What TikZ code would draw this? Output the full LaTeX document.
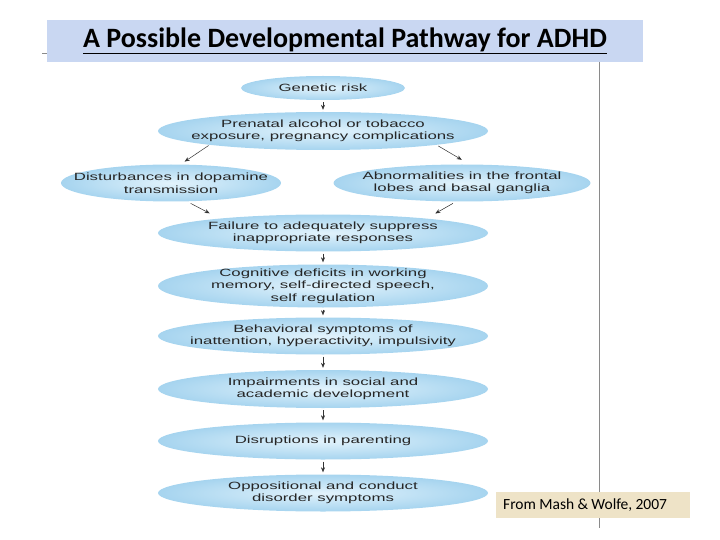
\documentclass[tikz,border=0pt]{standalone}
\usepackage{fontspec}
\setmainfont{Carlito}
\newfontfamily\nodefont[FakeStretch=1.6]{Liberation Sans}
\usetikzlibrary{shapes.geometric,arrows.meta}
\definecolor{titlebg}{HTML}{C9D7F2}
\definecolor{notebg}{HTML}{EEE3C7}
\definecolor{ellout}{HTML}{A6D4EF}
\definecolor{ellin}{HTML}{E2F3FC}
\definecolor{elltext}{HTML}{262626}
\definecolor{arrowcol}{HTML}{333333}
\definecolor{rulecol}{HTML}{8A8A8A}
\tikzset{
  stage/.style={ellipse, shading=radial, inner color=ellin, outer color=ellout,
    draw=none, inner xsep=-60pt, inner ysep=-8pt, minimum width=330pt, minimum height=37pt,
    align=center, text=elltext, font=\nodefont\fontsize{10.5pt}{12.5pt}\selectfont},
  flow/.style={draw=arrowcol, line width=0.5pt, -{Stealth[length=5pt,width=4pt]}},
}
\begin{document}
\begin{tikzpicture}[x=1pt,y=-1pt]
\useasboundingbox (0,0) rectangle (720,540);
% title band
\node[fill=titlebg, minimum width=596pt, minimum height=42pt, inner sep=0pt] (title) at (345,41)
  {\fontsize{28pt}{32pt}\selectfont\bfseries\underline{A Possible Developmental Pathway for ADHD}};
\draw[rulecol, line width=0.5pt] (42,53) -- (47,53);
\draw[rulecol, line width=0.5pt] (599,62) -- (599,528);
% stages
\node[stage, minimum width=164pt, minimum height=24pt] (gen) at (323,88) {Genetic risk};
\node[stage, minimum height=38pt] (pre) at (323,131) {Prenatal alcohol or tobacco\\exposure, pregnancy complications};
\node[stage, minimum width=220pt] (dis) at (171,183) {Disturbances in dopamine\\transmission};
\node[stage, minimum width=257pt] (abn) at (462,183) {Abnormalities in the frontal\\lobes and basal ganglia};
\node[stage] (fail) at (323,233) {Failure to adequately suppress\\inappropriate responses};
\node[stage, minimum height=43pt] (cog) at (323,286) {Cognitive deficits in working\\memory, self-directed speech,\\self regulation};
\node[stage] (beh) at (323,336) {Behavioral symptoms of\\inattention, hyperactivity, impulsivity};
\node[stage, minimum height=38pt] (imp) at (323,389) {Impairments in social and\\academic development};
\node[stage] (disr) at (323,441) {Disruptions in parenting};
\node[stage] (opp) at (323,493) {Oppositional and conduct\\disorder symptoms};
% connectors
\draw[flow, shorten <=2pt, shorten >=2pt] (gen.south) -- (pre.north);
\draw[flow, shorten <=1pt, shorten >=5pt] (pre.187) -- (dis.63);
\draw[flow, shorten <=2pt, shorten >=9pt] (pre.353) -- (abn.68);
\draw[flow, shorten <=4pt, shorten >=11pt] (dis.311) -- (fail.172);
\draw[flow, shorten <=3.5pt, shorten >=10pt] (abn.252) -- (fail.8);
\draw[flow, shorten <=2pt, shorten >=2pt] (fail.south) -- (cog.north);
\draw[flow, shorten <=2pt, shorten >=2pt] (cog.south) -- (beh.north);
\draw[flow, shorten <=2pt, shorten >=2pt] (beh.south) -- (imp.north);
\draw[flow, shorten <=2pt, shorten >=2pt] (imp.south) -- (disr.north);
\draw[flow, shorten <=2pt, shorten >=2pt] (disr.south) -- (opp.north);
% source note
\node[fill=notebg, minimum height=26pt, inner xsep=7pt, inner ysep=0pt, text width=180pt, align=left, anchor=west] (src) at (496,505)
  {\fontsize{15.5pt}{18pt}\selectfont From Mash \& Wolfe, 2007};
\end{tikzpicture}
\end{document}
